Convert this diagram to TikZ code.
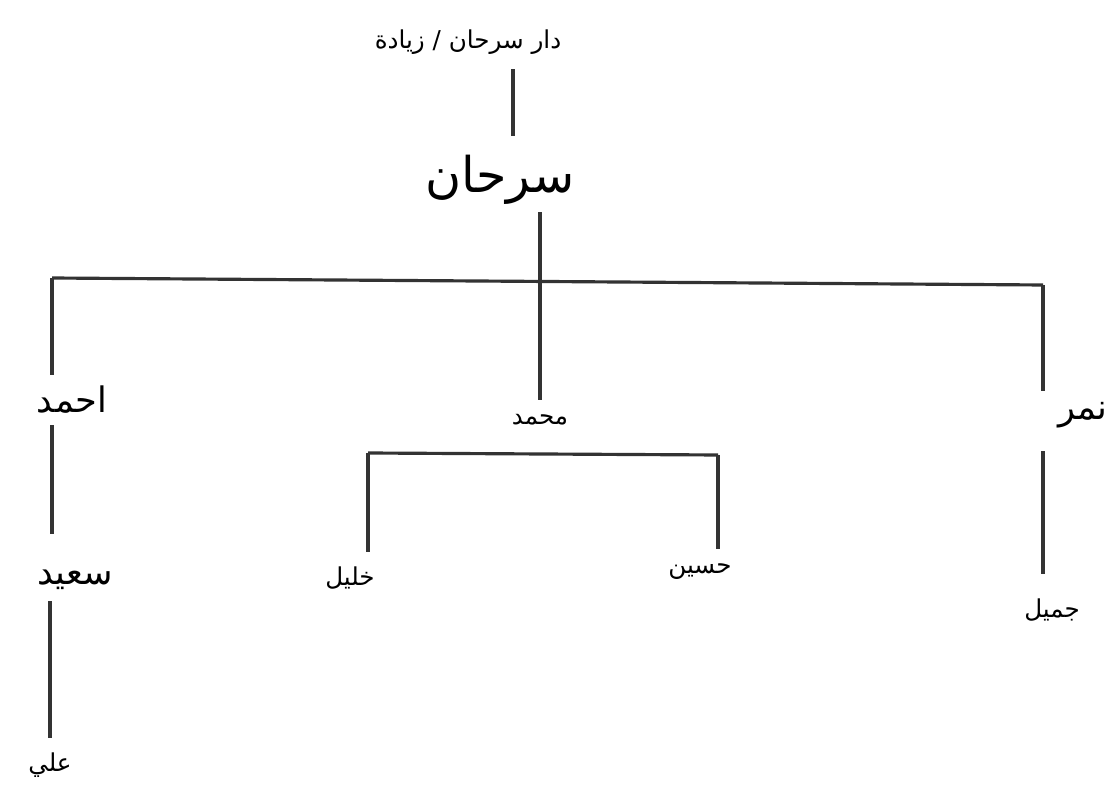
\documentclass[tikz,border=0pt]{standalone}
\usepackage{fontspec}
\newfontfamily\arabicfont[Script=Arabic]{DejaVu Sans}
\TeXXeTstate=1
\newcommand{\arb}[1]{\beginR #1\endR}

\begin{document}
\begin{tikzpicture}[x=1cm,y=1cm,
    person/.style={font={\arabicfont\fontsize{7}{9}\selectfont}, inner sep=4pt},
    wide/.style={font={\arabicfont\fontsize{10}{12}\selectfont}, inner sep=3pt},
    big/.style={font={\arabicfont\fontsize{14}{16}\selectfont}, inner sep=2pt},
    link/.style={line width=0.9pt, draw=black!80}]
    \fill[white] (0,0) rectangle (11.16,-7.94);
    \useasboundingbox (0,0) rectangle (11.16,-7.94);

    \node[person](top) at (4.68,-0.42) {\arb{دار سرحان / زيادة}};
    \node[big](sarhan) at (5.00,-1.80) {\arb{سرحان}};
    \node[wide](ahmad) at (0.72,-4.00) {\arb{احمد}};
    \node[person](mohammad) at (5.40,-4.20) {\arb{محمد}};
    \node[wide](nimr) at (10.83,-4.15) {\arb{نمر}};
    \node[wide](saeed) at (0.75,-5.80) {\arb{سعيد}};
    \node[person](ali) at (0.50,-7.65) {\arb{علي}};
    \node[person](khalil) at (3.50,-5.78) {\arb{خليل}};
    \node[person](husain) at (7.00,-5.72) {\arb{حسين}};
    \node[person](jamil) at (10.52,-6.10) {\arb{جميل}};

    \coordinate(sx) at (5.13,0);
    \coordinate(bl) at (0.52,-2.78);
    \coordinate(br) at (10.43,-2.85);
    \coordinate(cl) at (3.68,-4.53);
    \coordinate(cr) at (7.18,-4.55);

    \draw[link, shorten >=0.12cm](top.south -| sx)--(sarhan.north -| sx);
    \draw[link](sarhan.south -| mohammad)--(mohammad.north);
    \draw[link](bl)--(br);
    \draw[link](bl)--(bl |- ahmad.north);
    \draw[link](br)--(br |- nimr.north);
    \draw[link, shorten >=0.25cm](ahmad.south -| bl)--(saeed.north -| bl);
    \draw[link](saeed.south -| ali)--(ali.north);
    \draw[link](cl)--(cr);
    \draw[link](cl)--(cl |- khalil.north);
    \draw[link](cr)--(cr |- husain.north);
    \draw[link, shorten <=0.12cm, shorten >=0.1cm](nimr.south -| br)--(jamil.north -| br);
\end{tikzpicture}
\end{document}
